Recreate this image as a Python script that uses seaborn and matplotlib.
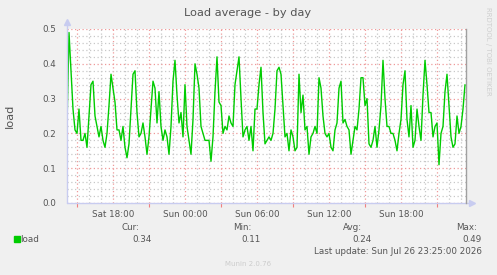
import numpy as np
import pandas as pd
import matplotlib
matplotlib.use("Agg")
import matplotlib.pyplot as plt
import matplotlib.dates as mdates
import matplotlib.ticker as mticker
import seaborn as sns

# ---- data (10-minute samples, Sat Jul 25 2026 14:10 -> Sun Jul 26 2026 23:20) ----
start_time = "2026-07-25 14:10"
sample_minutes = 10
load_values = [
    0.22, 0.49, 0.38, 0.27, 0.21, 0.20, 0.27, 0.18, 0.18, 0.20, 0.16, 0.25, 0.34,
    0.35, 0.25, 0.22, 0.19, 0.22, 0.18, 0.16, 0.20, 0.28, 0.37, 0.33, 0.29, 0.21,
    0.21, 0.18, 0.22, 0.16, 0.13, 0.17, 0.27, 0.37, 0.38, 0.26, 0.19, 0.20, 0.23,
    0.19, 0.14, 0.19, 0.27, 0.35, 0.33, 0.23, 0.32, 0.22, 0.18, 0.21, 0.19,
    0.14, 0.22, 0.35, 0.41, 0.31, 0.23, 0.26, 0.19, 0.34, 0.22, 0.18, 0.14, 0.24,
    0.40, 0.37, 0.33, 0.22, 0.20, 0.18, 0.18, 0.18, 0.12, 0.19, 0.32, 0.42,
    0.29, 0.28, 0.20, 0.22, 0.21, 0.25, 0.23, 0.22, 0.34, 0.38, 0.42, 0.30, 0.19,
    0.21, 0.22, 0.18, 0.22, 0.15, 0.27, 0.27, 0.34, 0.39, 0.26, 0.17, 0.18,
    0.19, 0.18, 0.20, 0.27, 0.38, 0.39, 0.37, 0.28, 0.19, 0.20, 0.15, 0.21, 0.19,
    0.15, 0.16, 0.37, 0.26, 0.31, 0.21, 0.22, 0.14, 0.19, 0.20, 0.22, 0.20,
    0.36, 0.33, 0.25, 0.20, 0.19, 0.20, 0.16, 0.15, 0.21, 0.23, 0.33, 0.35, 0.23,
    0.24, 0.22, 0.21, 0.14, 0.18, 0.22, 0.21, 0.27, 0.36, 0.36, 0.28, 0.30,
    0.17, 0.16, 0.18, 0.22, 0.16, 0.21, 0.28, 0.41, 0.30, 0.22, 0.22, 0.20, 0.20,
    0.18, 0.15, 0.20, 0.24, 0.34, 0.38, 0.24, 0.19, 0.28, 0.16, 0.18, 0.27,
    0.22, 0.18, 0.31, 0.41, 0.34, 0.26, 0.26, 0.19, 0.22, 0.23, 0.11, 0.20, 0.22,
    0.32, 0.37, 0.28, 0.19, 0.16, 0.17, 0.25, 0.20, 0.22, 0.27, 0.34,
]
view_start = "2026-07-25 14:10"
view_end = "2026-07-26 23:25"
y_ticks = [0.0, 0.1, 0.2, 0.3, 0.4, 0.5]
title = "Load average - by day"
y_label = "load"
series_name = "load"
stat_labels = ["Cur:", "Min:", "Avg:", "Max:"]
stat_values = ["0.34", "0.11", "0.24", "0.49"]
last_update = "Last update: Sun Jul 26 23:25:00 2026"
footer = "Munin 2.0.76"
side_text = "RRDTOOL / TOBI OETIKER"

times = pd.date_range(start_time, periods=len(load_values), freq=f"{sample_minutes}min")
df = pd.DataFrame({"time": times, "load": load_values})

# ---- figure ----
sns.set_style("white")
plt.rcParams["font.family"] = ["DejaVu Sans"]
W, H = 497, 275
fig = plt.figure(figsize=(W / 100, H / 100), dpi=100, facecolor="#F0F0F0")

def fx(px):
    return px / W

def fy(py):
    return 1 - py / H

L, R, T, B = 67, 466, 29, 203
ax = fig.add_axes([fx(L), fy(B), fx(R - L), (B - T) / H])
ax.set_facecolor("white")

line_color = "#00CC00"
sns.lineplot(data=df, x="time", y="load", ax=ax, color=line_color, lw=1.0, legend=False)

ax.set_xlim(pd.Timestamp(view_start), pd.Timestamp(view_end))
ax.set_ylim(y_ticks[0], y_ticks[-1])

# grids
mgrid = "#EE9A9A"
ngrid = "#C8C8C8"
ax.yaxis.set_major_locator(mticker.FixedLocator(y_ticks))
ax.yaxis.set_major_formatter(mticker.FormatStrFormatter("%.1f"))
ax.yaxis.set_minor_locator(mticker.MultipleLocator(0.02))
ax.xaxis.set_major_locator(mdates.HourLocator(byhour=range(0, 24, 3)))
ax.xaxis.set_minor_locator(mdates.HourLocator(interval=1))

def xfmt(x, pos):
    d = mdates.num2date(x)
    return d.strftime("%a %H:%M") if d.hour % 6 == 0 else ""

ax.xaxis.set_major_formatter(mticker.FuncFormatter(xfmt))
ax.grid(which="minor", color=ngrid, ls=(0, (1, 2)), lw=0.9)
ax.grid(which="major", color=mgrid, ls=(0, (1, 2)), lw=0.9)
ax.set_axisbelow(True)

txt = "#555555"
ax.tick_params(axis="x", which="both", length=0, labelsize=6.3, labelcolor=txt, pad=5)
ax.tick_params(axis="y", which="major", length=3, color="#C8C8C8", labelsize=6.3,
               labelcolor=txt, pad=5)
ax.tick_params(axis="y", which="minor", length=0)
ax.set_xlabel("")
ax.set_ylabel("")

# red ticks below axis at 03,09,15,21
tt = pd.date_range("2026-07-25 15:00", view_end, freq="6h")
ax.vlines(tt, -0.022, 0, transform=ax.get_xaxis_transform(), colors="#F08080",
          lw=0.8, clip_on=False)

# spines / axis arrows
for s in ["top", "left", "bottom"]:
    ax.spines[s].set_visible(False)
ax.spines["right"].set_color("#A0A0A0")
ax.spines["right"].set_linewidth(1.0)
axis_c = "#C8CCF0"
ax.plot([0, 0], [0, 1.04], transform=ax.transAxes, color=axis_c, lw=1, clip_on=False)
ax.plot([0, 1.015], [0, 0], transform=ax.transAxes, color=axis_c, lw=1, clip_on=False)
ax.plot([0], [1.04], marker="^", ms=4, color=axis_c, transform=ax.transAxes, clip_on=False)
ax.plot([1.015], [0], marker=">", ms=4, color=axis_c, transform=ax.transAxes, clip_on=False)

# texts
fig.text(fx(248), fy(13), title, ha="center", va="center", fontsize=8.2, color="#555555")
fig.text(fx(10), fy(116), y_label, ha="center", va="center", rotation=90,
         fontsize=8.2, color="#555555")
fig.text(fx(488), fy(51), side_text, ha="center", va="center", rotation=270,
         fontsize=5, color="#CFCFCF")

# legend block
fig.patches.append(matplotlib.patches.Rectangle((fx(14), fy(242)), fx(6), 6 / H,
                                                transform=fig.transFigure,
                                                color=line_color))
fig.text(fx(20), fy(239), series_name, ha="left", va="center", fontsize=6.3, color=txt)
label_right = [139, 252, 362, 477]
value_right = [152, 261, 372, 482]
for lab, lr, val, vr in zip(stat_labels, label_right, stat_values, value_right):
    fig.text(fx(lr), fy(227), lab, ha="right", va="center", fontsize=6.3, color=txt)
    fig.text(fx(vr), fy(239), val, ha="right", va="center", fontsize=6.3, color=txt)
fig.text(fx(482), fy(251), last_update, ha="right", va="center", fontsize=6.3, color=txt)
fig.text(fx(248), fy(264), footer, ha="center", va="center", fontsize=5, color="#CCCCCC")

fig.savefig("out.png", dpi=100, facecolor=fig.get_facecolor())
